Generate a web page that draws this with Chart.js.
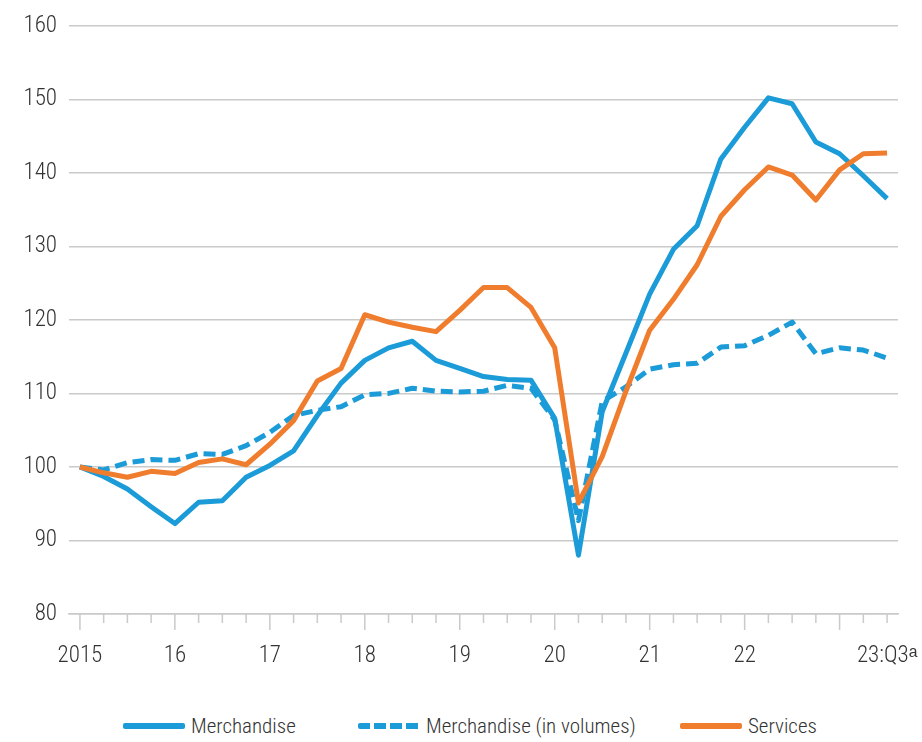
<!DOCTYPE html>
<html>
<head>
<meta charset="utf-8">
<script src="https://cdn.jsdelivr.net/npm/chart.js@4.4.0/dist/chart.umd.min.js"></script>
<style>
  html, body { margin: 0; padding: 0; background: #fff; }
  #wrap { width: 922px; height: 690px; position: relative; }
  #legend { position: relative; width: 922px; height: 52px; font-family: "Roboto Condensed", Roboto, "Liberation Sans", sans-serif;
            font-weight: 300; font-size: 21px; color: #333; }
  #legend .item { position: absolute; top: 36px; display: flex; align-items: center; transform: translateY(-50%); white-space: nowrap; }
  #legend .swatch { width: 62px; height: 6px; margin-right: 6px; border-radius: 2px; }
</style>
</head>
<body>
<div id="wrap"><canvas id="tradeChart"></canvas></div>
<div id="legend"></div>
<script>
// quarterly index, 2015:Q1 = 100
const QUARTERS = [
  '2015Q1', '2015Q2', '2015Q3', '2015Q4', '2016Q1', '2016Q2', '2016Q3', '2016Q4',
  '2017Q1', '2017Q2', '2017Q3', '2017Q4', '2018Q1', '2018Q2', '2018Q3', '2018Q4',
  '2019Q1', '2019Q2', '2019Q3', '2019Q4', '2020Q1', '2020Q2', '2020Q3', '2020Q4',
  '2021Q1', '2021Q2', '2021Q3', '2021Q4', '2022Q1', '2022Q2', '2022Q3', '2022Q4',
  '2023Q1', '2023Q2', '2023Q3'
];
const MERCH = [
  100, 98.7, 97.0, 94.6, 92.3, 95.2, 95.4, 98.6, 100.2, 102.2, 107.0, 111.4,
  114.5, 116.2, 117.1, 114.5, 113.4, 112.3, 111.9, 111.8, 106.6, 88.0, 107.5, 115.5,
  123.5, 129.6, 132.8, 141.9, 146.2, 150.2, 149.4, 144.2, 142.6, 139.6, 136.5
];
const MERCH_VOL = [
  100, 99.6, 100.6, 101.0, 100.9, 101.8, 101.7, 102.9, 104.7, 107.0, 107.7, 108.2,
  109.8, 110.0, 110.7, 110.3, 110.2, 110.3, 111.1, 110.7, 106.4, 92.7, 108.9, 110.9,
  113.3, 113.9, 114.1, 116.3, 116.5, 117.9, 119.7, 115.4, 116.2, 115.9, 114.8
];
const SERVICES = [
  100, 99.2, 98.6, 99.4, 99.1, 100.6, 101.1, 100.3, 103.1, 106.3, 111.7, 113.4,
  120.7, 119.7, 119.0, 118.4, 121.3, 124.4, 124.4, 121.7, 116.2, 95.1, 101.4, 110.3,
  118.6, 122.8, 127.5, 134.1, 137.7, 140.8, 139.7, 136.3, 140.4, 142.6, 142.7
];
const TICK_IDX = [0, 4, 8, 12, 16, 20, 24, 28, 34];
const TICK_TEXT = ['2015', '16', '17', '18', '19', '20', '21', '22', '23:Q3\u1d43'];

const BLUE = '#1b9bd7';
const ORANGE = '#ef7d2d';
const GRID = '#cacaca';
const LEGEND_LEFT = [123, 358, 680];

Chart.defaults.font.family = '"Roboto Condensed", Roboto, "Liberation Sans", sans-serif';
Chart.defaults.font.weight = 300;
Chart.defaults.color = '#333';

const toPoints = arr => arr.map((v, i) => ({ x: i, y: v }));

// quarter tick marks below the axis, longer ones at each Q1
const tickMarks = {
  id: 'tickMarks',
  afterDraw(chart) {
    const sx = chart.scales.x;
    const ctx = chart.ctx;
    ctx.save();
    ctx.strokeStyle = GRID;
    ctx.lineWidth = 1.5;
    QUARTERS.forEach((q, i) => {
      const px = sx.getPixelForValue(i);
      const len = q.endsWith('Q1') ? 16 : 9;
      ctx.beginPath();
      ctx.moveTo(px, sx.top);
      ctx.lineTo(px, sx.top + len);
      ctx.stroke();
    });
    ctx.restore();
  }
};

// html legend under the canvas
const htmlLegend = {
  id: 'htmlLegend',
  afterUpdate(chart) {
    const box = document.getElementById('legend');
    box.innerHTML = '';
    const items = chart.options.plugins.legend.labels.generateLabels(chart)
      .sort((a, b) => a.datasetIndex - b.datasetIndex);
    items.forEach((it, i) => {
      const el = document.createElement('div');
      el.className = 'item';
      el.style.left = LEGEND_LEFT[i] + 'px';
      const sw = document.createElement('span');
      sw.className = 'swatch';
      const dash = it.lineDash || [];
      if (dash.length) {
        sw.style.background = `repeating-linear-gradient(90deg, ${it.strokeStyle} 0 ${dash[0]}px, transparent ${dash[0]}px ${dash[0] + dash[1] - 2}px)`;
      } else {
        sw.style.background = it.strokeStyle;
      }
      const txt = document.createElement('span');
      txt.textContent = it.text;
      el.appendChild(sw);
      el.appendChild(txt);
      box.appendChild(el);
    });
  }
};

new Chart(document.getElementById('tradeChart'), {
  type: 'line',
  data: {
    datasets: [
      { label: 'Merchandise', data: toPoints(MERCH), borderColor: BLUE, backgroundColor: BLUE, borderWidth: 5, order: 1 },
      { label: 'Merchandise (in volumes)', data: toPoints(MERCH_VOL), borderColor: BLUE, backgroundColor: BLUE, borderWidth: 5, borderDash: [12, 6], order: 2 },
      { label: 'Services', data: toPoints(SERVICES), borderColor: ORANGE, backgroundColor: ORANGE, borderWidth: 5, order: 0 }
    ]
  },
  options: {
    responsive: true,
    maintainAspectRatio: false,
    animation: false,
    layout: { padding: { top: 21, right: 24, left: 0, bottom: 0 } },
    elements: {
      point: { radius: 0 },
      line: { tension: 0, borderJoinStyle: 'round', fill: false }
    },
    plugins: {
      tooltip: { enabled: false },
      legend: { display: false }
    },
    scales: {
      x: {
        type: 'linear',
        min: -0.46,
        max: 34.46,
        afterFit: s => { s.height = 76; s.paddingLeft = 0; s.paddingRight = 0; },
        afterBuildTicks: s => { s.ticks = QUARTERS.map((q, i) => ({ value: i })); },
        grid: { display: true, drawOnChartArea: false, drawTicks: false },
        border: { display: true, color: GRID, width: 1.5 },
        ticks: {
          autoSkip: false,
          maxRotation: 0,
          padding: 28,
          font: { size: 23 },
          callback: v => {
            const k = TICK_IDX.indexOf(v);
            return k >= 0 ? TICK_TEXT[k] : '';
          }
        }
      },
      y: {
        min: 80,
        max: 160,
        afterFit: s => { s.width = 69; },
        grid: { color: GRID, lineWidth: 1.5, drawTicks: false },
        border: { display: false },
        ticks: { stepSize: 10, padding: 12, font: { size: 23 } }
      }
    }
  },
  plugins: [tickMarks, htmlLegend]
});
</script>
</body>
</html>
